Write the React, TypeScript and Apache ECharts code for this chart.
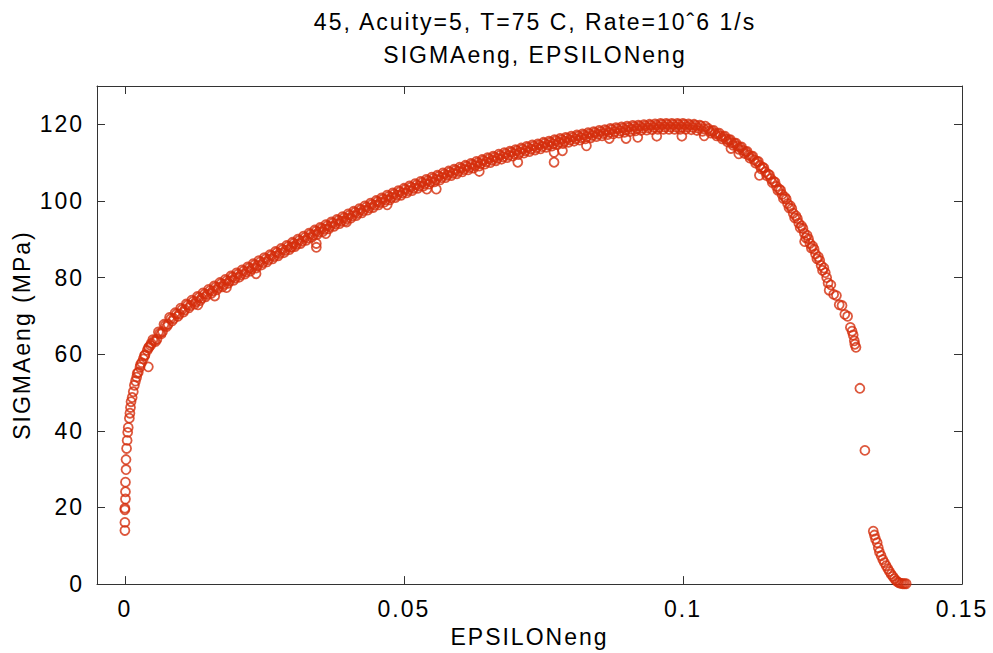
import React, { useEffect, useRef } from "react";
import * as echarts from "echarts";

const titleLines = ["45, Acuity=5, T=75 C, Rate=10ˆ6 1/s", "SIGMAeng, EPSILONeng"];
const xAxisName = "EPSILONeng";
const yAxisName = "SIGMAeng (MPa)";
const xTicks = [0, 0.05, 0.1, 0.15];
const yTicks = [0, 20, 40, 60, 80, 100, 120];

// [strain, stress (MPa)]
const elasticPoints = [
  [0.0, 14.0], [0.0, 16.1], [0.0, 19.4], [0.0, 19.8], [0.0001, 22.2], [0.0001, 24.1],
  [0.0001, 26.6], [0.0002, 29.9], [0.0002, 32.5], [0.0003, 35.4], [0.0004, 37.5],
  [0.0005, 39.6], [0.0006, 40.9], [0.0008, 43.3], [0.0009, 44.6], [0.001, 46.1],
  [0.0011, 47.6], [0.0013, 48.7], [0.0015, 50.2], [0.0017, 51.9], [0.0019, 53.0],
  [0.0021, 54.0], [0.0024, 55.3], [0.0027, 56.6], [0.003, 57.8], [0.0033, 58.8],
  [0.0036, 59.8], [0.004, 61.0], [0.0043, 61.9], [0.0047, 62.8], [0.0022, 55.0],
  [0.0028, 57.3], [0.0035, 59.6], [0.0042, 61.6], [0.0046, 62.3],
];

const hardeningUpper = [
  [0.005, 63.8], [0.006, 65.8], [0.007, 67.8], [0.008, 69.6], [0.009, 70.8], [0.01, 72.0],
  [0.011, 73.1], [0.012, 74.1], [0.013, 75.1], [0.014, 76.0], [0.015, 76.9], [0.016, 77.8],
  [0.017, 78.7], [0.018, 79.5], [0.019, 80.4], [0.02, 81.2], [0.021, 82.0], [0.022, 82.8],
  [0.023, 83.6], [0.024, 84.4], [0.025, 85.2], [0.026, 86.0], [0.027, 86.8], [0.028, 87.6],
  [0.029, 88.4], [0.03, 89.2], [0.031, 90.0], [0.032, 90.8], [0.033, 91.6], [0.034, 92.4],
  [0.035, 93.1], [0.036, 93.8], [0.037, 94.5], [0.038, 95.2], [0.039, 95.9], [0.04, 96.6],
  [0.041, 97.3], [0.042, 98.0], [0.043, 98.7], [0.044, 99.4], [0.045, 100.1], [0.046, 100.8],
  [0.047, 101.5], [0.048, 102.1], [0.049, 102.7], [0.05, 103.3], [0.051, 103.9], [0.052, 104.5],
  [0.053, 105.1], [0.054, 105.6], [0.055, 106.2], [0.056, 106.7], [0.057, 107.3], [0.058, 107.8],
  [0.059, 108.3], [0.06, 108.8], [0.061, 109.3], [0.062, 109.8], [0.063, 110.3], [0.064, 110.8],
  [0.065, 111.3], [0.066, 111.7], [0.067, 112.2], [0.068, 112.6], [0.069, 113.0], [0.07, 113.4],
  [0.071, 113.8], [0.072, 114.2], [0.073, 114.6], [0.074, 114.9], [0.075, 115.3], [0.076, 115.6],
  [0.077, 116.0], [0.078, 116.3], [0.079, 116.6], [0.08, 116.9], [0.081, 117.2], [0.082, 117.5],
  [0.083, 117.8], [0.084, 118.1], [0.085, 118.4], [0.086, 118.6], [0.087, 118.9], [0.088, 119.1],
  [0.089, 119.3], [0.09, 119.5], [0.091, 119.7], [0.092, 119.8], [0.093, 119.9], [0.094, 120.0],
  [0.095, 120.1], [0.096, 120.2], [0.097, 120.2], [0.098, 120.2], [0.099, 120.2], [0.1, 120.2],
  [0.101, 120.1], [0.102, 120.0], [0.103, 119.8], [0.104, 119.5],
];

const hardeningMid1 = [
  [0.00525, 63.5], [0.00625, 65.5], [0.00725, 67.5], [0.00825, 69.3], [0.00925, 70.5], [0.01025, 71.7],
  [0.01125, 72.8], [0.01225, 73.8], [0.01325, 74.8], [0.01425, 75.7], [0.01525, 76.6], [0.01625, 77.5],
  [0.01725, 78.4], [0.01825, 79.2], [0.01925, 80.1], [0.02025, 80.9], [0.02125, 81.7], [0.02225, 82.5],
  [0.02325, 83.3], [0.02425, 84.1], [0.02525, 84.9], [0.02625, 85.7], [0.02725, 86.5], [0.02825, 87.3],
  [0.02925, 88.1], [0.03025, 88.9], [0.03125, 89.7], [0.03225, 90.5], [0.03325, 91.3], [0.03425, 92.1],
  [0.03525, 92.8], [0.03625, 93.5], [0.03725, 94.2], [0.03825, 94.9], [0.03925, 95.6], [0.04025, 96.3],
  [0.04125, 97.0], [0.04225, 97.7], [0.04325, 98.4], [0.04425, 99.1], [0.04525, 99.8], [0.04625, 100.5],
  [0.04725, 101.2], [0.04825, 101.8], [0.04925, 102.4], [0.05025, 103.0], [0.05125, 103.6], [0.05225, 104.2],
  [0.05325, 104.8], [0.05425, 105.3], [0.05525, 105.9], [0.05625, 106.4], [0.05725, 107.0], [0.05825, 107.5],
  [0.05925, 108.0], [0.06025, 108.5], [0.06125, 109.0], [0.06225, 109.5], [0.06325, 110.0], [0.06425, 110.5],
  [0.06525, 111.0], [0.06625, 111.4], [0.06725, 111.9], [0.06825, 112.3], [0.06925, 112.7], [0.07025, 113.1],
  [0.07125, 113.5], [0.07225, 113.9], [0.07325, 114.3], [0.07425, 114.6], [0.07525, 115.0], [0.07625, 115.3],
  [0.07725, 115.7], [0.07825, 116.0], [0.07925, 116.3], [0.08025, 116.6], [0.08125, 116.9], [0.08225, 117.2],
  [0.08325, 117.5], [0.08425, 117.8], [0.08525, 118.1], [0.08625, 118.3], [0.08725, 118.6], [0.08825, 118.8],
  [0.08925, 119.0], [0.09025, 119.2], [0.09125, 119.4], [0.09225, 119.5], [0.09325, 119.6], [0.09425, 119.7],
  [0.09525, 119.8], [0.09625, 119.9], [0.09725, 119.9], [0.09825, 119.9], [0.09925, 119.9], [0.10025, 119.9],
  [0.10125, 119.8], [0.10225, 119.7], [0.10325, 119.5],
];

const hardeningLower = [
  [0.0055, 63.3], [0.0065, 65.3], [0.0075, 67.2], [0.0085, 68.7], [0.0095, 69.9], [0.0105, 71.0],
  [0.0115, 72.1], [0.0125, 73.1], [0.0135, 74.0], [0.0145, 75.0], [0.0155, 75.9], [0.0165, 76.8],
  [0.0175, 77.6], [0.0185, 78.5], [0.0195, 79.3], [0.0205, 80.1], [0.0215, 80.9], [0.0225, 81.7],
  [0.0235, 82.5], [0.0245, 83.3], [0.0255, 84.1], [0.0265, 84.9], [0.0275, 85.7], [0.0285, 86.5],
  [0.0295, 87.3], [0.0305, 88.1], [0.0315, 88.9], [0.0325, 89.7], [0.0335, 90.5], [0.0345, 91.3],
  [0.0355, 92.0], [0.0365, 92.7], [0.0375, 93.4], [0.0385, 94.1], [0.0395, 94.8], [0.0405, 95.5],
  [0.0415, 96.2], [0.0425, 96.9], [0.0435, 97.6], [0.0445, 98.3], [0.0455, 99.0], [0.0465, 99.7],
  [0.0475, 100.3], [0.0485, 100.9], [0.0495, 101.5], [0.0505, 102.1], [0.0515, 102.7], [0.0525, 103.3],
  [0.0535, 103.9], [0.0545, 104.4], [0.0555, 105.0], [0.0565, 105.5], [0.0575, 106.1], [0.0585, 106.6],
  [0.0595, 107.1], [0.0605, 107.6], [0.0615, 108.1], [0.0625, 108.6], [0.0635, 109.1], [0.0645, 109.6],
  [0.0655, 110.0], [0.0665, 110.5], [0.0675, 110.9], [0.0685, 111.3], [0.0695, 111.7], [0.0705, 112.1],
  [0.0715, 112.5], [0.0725, 112.9], [0.0735, 113.3], [0.0745, 113.6], [0.0755, 114.0], [0.0765, 114.3],
  [0.0775, 114.7], [0.0785, 115.0], [0.0795, 115.3], [0.0805, 115.6], [0.0815, 115.9], [0.0825, 116.2],
  [0.0835, 116.5], [0.0845, 116.8], [0.0855, 117.0], [0.0865, 117.3], [0.0875, 117.5], [0.0885, 117.7],
  [0.0895, 117.9], [0.0905, 118.1], [0.0915, 118.3], [0.0925, 118.4], [0.0935, 118.5], [0.0945, 118.6],
  [0.0955, 118.7], [0.0965, 118.7], [0.0975, 118.7], [0.0985, 118.7], [0.0995, 118.7], [0.1005, 118.7],
  [0.1015, 118.6], [0.1025, 118.4], [0.1035, 118.2],
];

const hardeningMid2 = [
  [0.00575, 63.9], [0.00675, 65.9], [0.00775, 67.8], [0.00875, 69.3], [0.00975, 70.5], [0.01075, 71.6],
  [0.01175, 72.7], [0.01275, 73.7], [0.01375, 74.6], [0.01475, 75.6], [0.01575, 76.5], [0.01675, 77.4],
  [0.01775, 78.2], [0.01875, 79.1], [0.01975, 79.9], [0.02075, 80.7], [0.02175, 81.5], [0.02275, 82.3],
  [0.02375, 83.1], [0.02475, 83.9], [0.02575, 84.7], [0.02675, 85.5], [0.02775, 86.3], [0.02875, 87.1],
  [0.02975, 87.9], [0.03075, 88.7], [0.03175, 89.5], [0.03275, 90.3], [0.03375, 91.1], [0.03475, 91.9],
  [0.03575, 92.6], [0.03675, 93.3], [0.03775, 94.0], [0.03875, 94.7], [0.03975, 95.4], [0.04075, 96.1],
  [0.04175, 96.8], [0.04275, 97.5], [0.04375, 98.2], [0.04475, 98.9], [0.04575, 99.6], [0.04675, 100.3],
  [0.04775, 100.9], [0.04875, 101.5], [0.04975, 102.1], [0.05075, 102.7], [0.05175, 103.3], [0.05275, 103.9],
  [0.05375, 104.5], [0.05475, 105.0], [0.05575, 105.6], [0.05675, 106.1], [0.05775, 106.7], [0.05875, 107.2],
  [0.05975, 107.7], [0.06075, 108.2], [0.06175, 108.7], [0.06275, 109.2], [0.06375, 109.7], [0.06475, 110.2],
  [0.06575, 110.6], [0.06675, 111.1], [0.06775, 111.5], [0.06875, 111.9], [0.06975, 112.3], [0.07075, 112.7],
  [0.07175, 113.1], [0.07275, 113.5], [0.07375, 113.9], [0.07475, 114.2], [0.07575, 114.6], [0.07675, 114.9],
  [0.07775, 115.3], [0.07875, 115.6], [0.07975, 115.9], [0.08075, 116.2], [0.08175, 116.5], [0.08275, 116.8],
  [0.08375, 117.1], [0.08475, 117.4], [0.08575, 117.6], [0.08675, 117.9], [0.08775, 118.1], [0.08875, 118.3],
  [0.08975, 118.5], [0.09075, 118.7], [0.09175, 118.9], [0.09275, 119.0], [0.09375, 119.1], [0.09475, 119.2],
  [0.09575, 119.3], [0.09675, 119.3], [0.09775, 119.3], [0.09875, 119.3], [0.09975, 119.3], [0.10075, 119.3],
  [0.10175, 119.2], [0.10275, 119.0], [0.10375, 118.8],
];

const softeningPoints = [
  [0.1045, 118.9], [0.105, 117.7], [0.1055, 118.4], [0.106, 117.0], [0.1065, 117.7], [0.107, 116.2],
  [0.1075, 116.9], [0.108, 115.4], [0.1085, 116.0], [0.109, 114.5], [0.1095, 115.1], [0.11, 113.5],
  [0.1105, 114.1], [0.111, 112.4], [0.1115, 112.9], [0.112, 111.2], [0.1125, 111.7], [0.113, 109.9],
  [0.1135, 110.3], [0.114, 108.4], [0.1145, 108.6], [0.115, 106.6], [0.1155, 106.8], [0.116, 104.8],
  [0.1165, 104.9], [0.117, 102.8], [0.1175, 102.8], [0.118, 100.6], [0.1185, 100.5], [0.119, 98.2],
  [0.1195, 98.0], [0.12, 95.6], [0.1205, 95.4], [0.121, 93.0], [0.1215, 92.8], [0.122, 90.4],
  [0.1225, 90.1], [0.123, 87.7], [0.1235, 87.4], [0.124, 84.9], [0.1245, 84.5], [0.125, 81.9],
  [0.1255, 81.3], [0.126, 78.6], [0.1265, 78.1], [0.127, 75.6], [0.1275, 75.3], [0.128, 72.9],
  [0.1285, 72.7], [0.129, 70.4], [0.1295, 69.9], [0.13, 67.0], [0.1303, 66.0], [0.1305, 65.0],
  [0.1307, 63.5], [0.1308, 62.6], [0.131, 61.8],
];

const softeningExtra = [
  [0.10475, 118.3], [0.10525, 118.2], [0.10575, 117.6], [0.10625, 117.5], [0.10675, 116.9], [0.10725, 116.7],
  [0.10775, 116.1], [0.10825, 115.9], [0.10875, 115.2], [0.10925, 115.0], [0.10975, 114.3], [0.11025, 114.0],
  [0.11075, 113.2], [0.11125, 112.8], [0.11175, 112.0], [0.11225, 111.6], [0.11275, 110.7], [0.11325, 110.3],
  [0.11375, 109.3], [0.11425, 108.8], [0.11475, 107.6], [0.11525, 107.0], [0.11575, 105.8], [0.11625, 105.1],
  [0.11675, 103.8], [0.11725, 103.1], [0.11775, 101.7], [0.11825, 101.0], [0.11875, 99.3], [0.11925, 98.7],
  [0.11975, 96.8], [0.12025, 96.1], [0.12075, 94.2], [0.12125, 93.5], [0.12175, 91.6], [0.12225, 91.0],
  [0.12275, 88.9], [0.12325, 88.2], [0.12375, 86.2], [0.12425, 85.4], [0.12475, 83.2], [0.12525, 82.5],
  [0.12575, 80.0],
];

const fracturePoints = [
  [0.1317, 51.1], [0.1326, 34.9], [0.1341, 13.8], [0.1343, 12.8], [0.1345, 11.8], [0.1348, 10.8],
  [0.135, 9.5], [0.1352, 8.4], [0.1355, 7.4], [0.1358, 6.4], [0.1361, 5.6], [0.1364, 4.8],
  [0.1367, 4.0], [0.137, 3.3], [0.1373, 2.6], [0.1376, 2.0], [0.1379, 1.4], [0.1382, 0.9],
  [0.1385, 0.5], [0.1388, 0.3], [0.1391, 0.2], [0.1394, 0.1], [0.1397, 0.1], [0.14, 0.1],
];

const outlierPoints = [
  [0.0042, 56.7], [0.0131, 72.9], [0.0161, 75.2], [0.0182, 77.4], [0.0235, 81.0], [0.0299, 88.0],
  [0.0343, 88.9], [0.0343, 87.9], [0.036, 91.5], [0.0397, 94.5], [0.047, 99.0], [0.0541, 103.1],
  [0.0558, 103.1], [0.0635, 107.7], [0.0704, 110.1], [0.0769, 110.1], [0.0769, 112.7], [0.0784, 113.1],
  [0.0827, 114.4], [0.0868, 116.3], [0.0898, 116.3], [0.0919, 116.6], [0.0953, 116.9], [0.0998, 116.9],
  [0.1038, 117.0], [0.1086, 113.7], [0.11, 112.3], [0.1137, 106.7], [0.1218, 89.4], [0.1262, 76.7],
];

const markerColor = "#d42e0c";
const FONT = "'Liberation Sans', Arial, sans-serif";

export default function App() {
  const ref = useRef<HTMLDivElement>(null);
  useEffect(() => {
    if (!ref.current) return;
    const chart = echarts.init(ref.current, undefined, { renderer: "svg" });
    const allPoints = [
      ...elasticPoints,
      ...hardeningUpper,
      ...hardeningMid1,
      ...hardeningLower,
      ...hardeningMid2,
      ...softeningPoints,
      ...softeningExtra,
      ...fracturePoints,
      ...outlierPoints,
    ];
    const axisLine = { show: true, onZero: false, lineStyle: { color: "#333", width: 1 } };
    const axisTick = { show: true, inside: true, length: 8, lineStyle: { color: "#333", width: 1 } };
    chart.setOption({
      animation: false,
      backgroundColor: "#ffffff",
      title: {
        text: titleLines.join("\n"),
        left: 530,
        top: 0,
        textAlign: "center",
        textStyle: { fontFamily: FONT, fontSize: 23, fontWeight: "normal", color: "#000", lineHeight: 33 },
      },
      grid: { left: 97, right: 31, top: 86, bottom: 61, containLabel: false },
      xAxis: [
        {
          type: "value",
          min: -0.005,
          max: 0.15,
          name: xAxisName,
          nameLocation: "middle",
          nameGap: 33,
          nameTextStyle: { fontFamily: FONT, fontSize: 23, color: "#000" },
          axisLine,
          axisTick: { ...axisTick, customValues: xTicks },
          axisLabel: {
            customValues: xTicks,
            fontFamily: FONT,
            fontSize: 23,
            color: "#000",
            margin: 13,
            formatter: (v: number) => String(Math.round(v * 1000) / 1000),
          },
          splitLine: { show: false },
        },
        {
          type: "value",
          position: "top",
          min: -0.005,
          max: 0.15,
          axisLine,
          axisTick: { ...axisTick, customValues: xTicks },
          axisLabel: { show: false, customValues: xTicks },
          splitLine: { show: false },
        },
      ],
      yAxis: [
        {
          type: "value",
          min: 0,
          max: 130,
          interval: 20,
          name: yAxisName,
          nameLocation: "middle",
          nameGap: 64,
          nameRotate: 90,
          nameTextStyle: { fontFamily: FONT, fontSize: 23, color: "#000" },
          axisLine,
          axisTick: { ...axisTick, customValues: yTicks },
          axisLabel: { customValues: yTicks, fontFamily: FONT, fontSize: 23, color: "#000", margin: 13 },
          splitLine: { show: false },
        },
        {
          type: "value",
          position: "right",
          min: 0,
          max: 130,
          interval: 20,
          axisLine,
          axisTick: { ...axisTick, customValues: yTicks },
          axisLabel: { show: false, customValues: yTicks },
          splitLine: { show: false },
        },
      ],
      series: [
        {
          type: "scatter",
          xAxisIndex: 0,
          yAxisIndex: 0,
          data: allPoints,
          symbol: "circle",
          symbolSize: 9,
          itemStyle: { color: "rgba(0,0,0,0)", borderColor: markerColor, borderWidth: 1.8 },
          emphasis: { disabled: true },
        },
      ],
    });
    return () => chart.dispose();
  }, []);
  return (
    <>
      <style>{`body{margin:0} .chartbox text{letter-spacing:2px}`}</style>
      <div
        ref={ref}
        className="chartbox"
        style={{ position: "absolute", left: 0, top: 0, width: 993, height: 653, background: "#fff" }}
      />
    </>
  );
}
